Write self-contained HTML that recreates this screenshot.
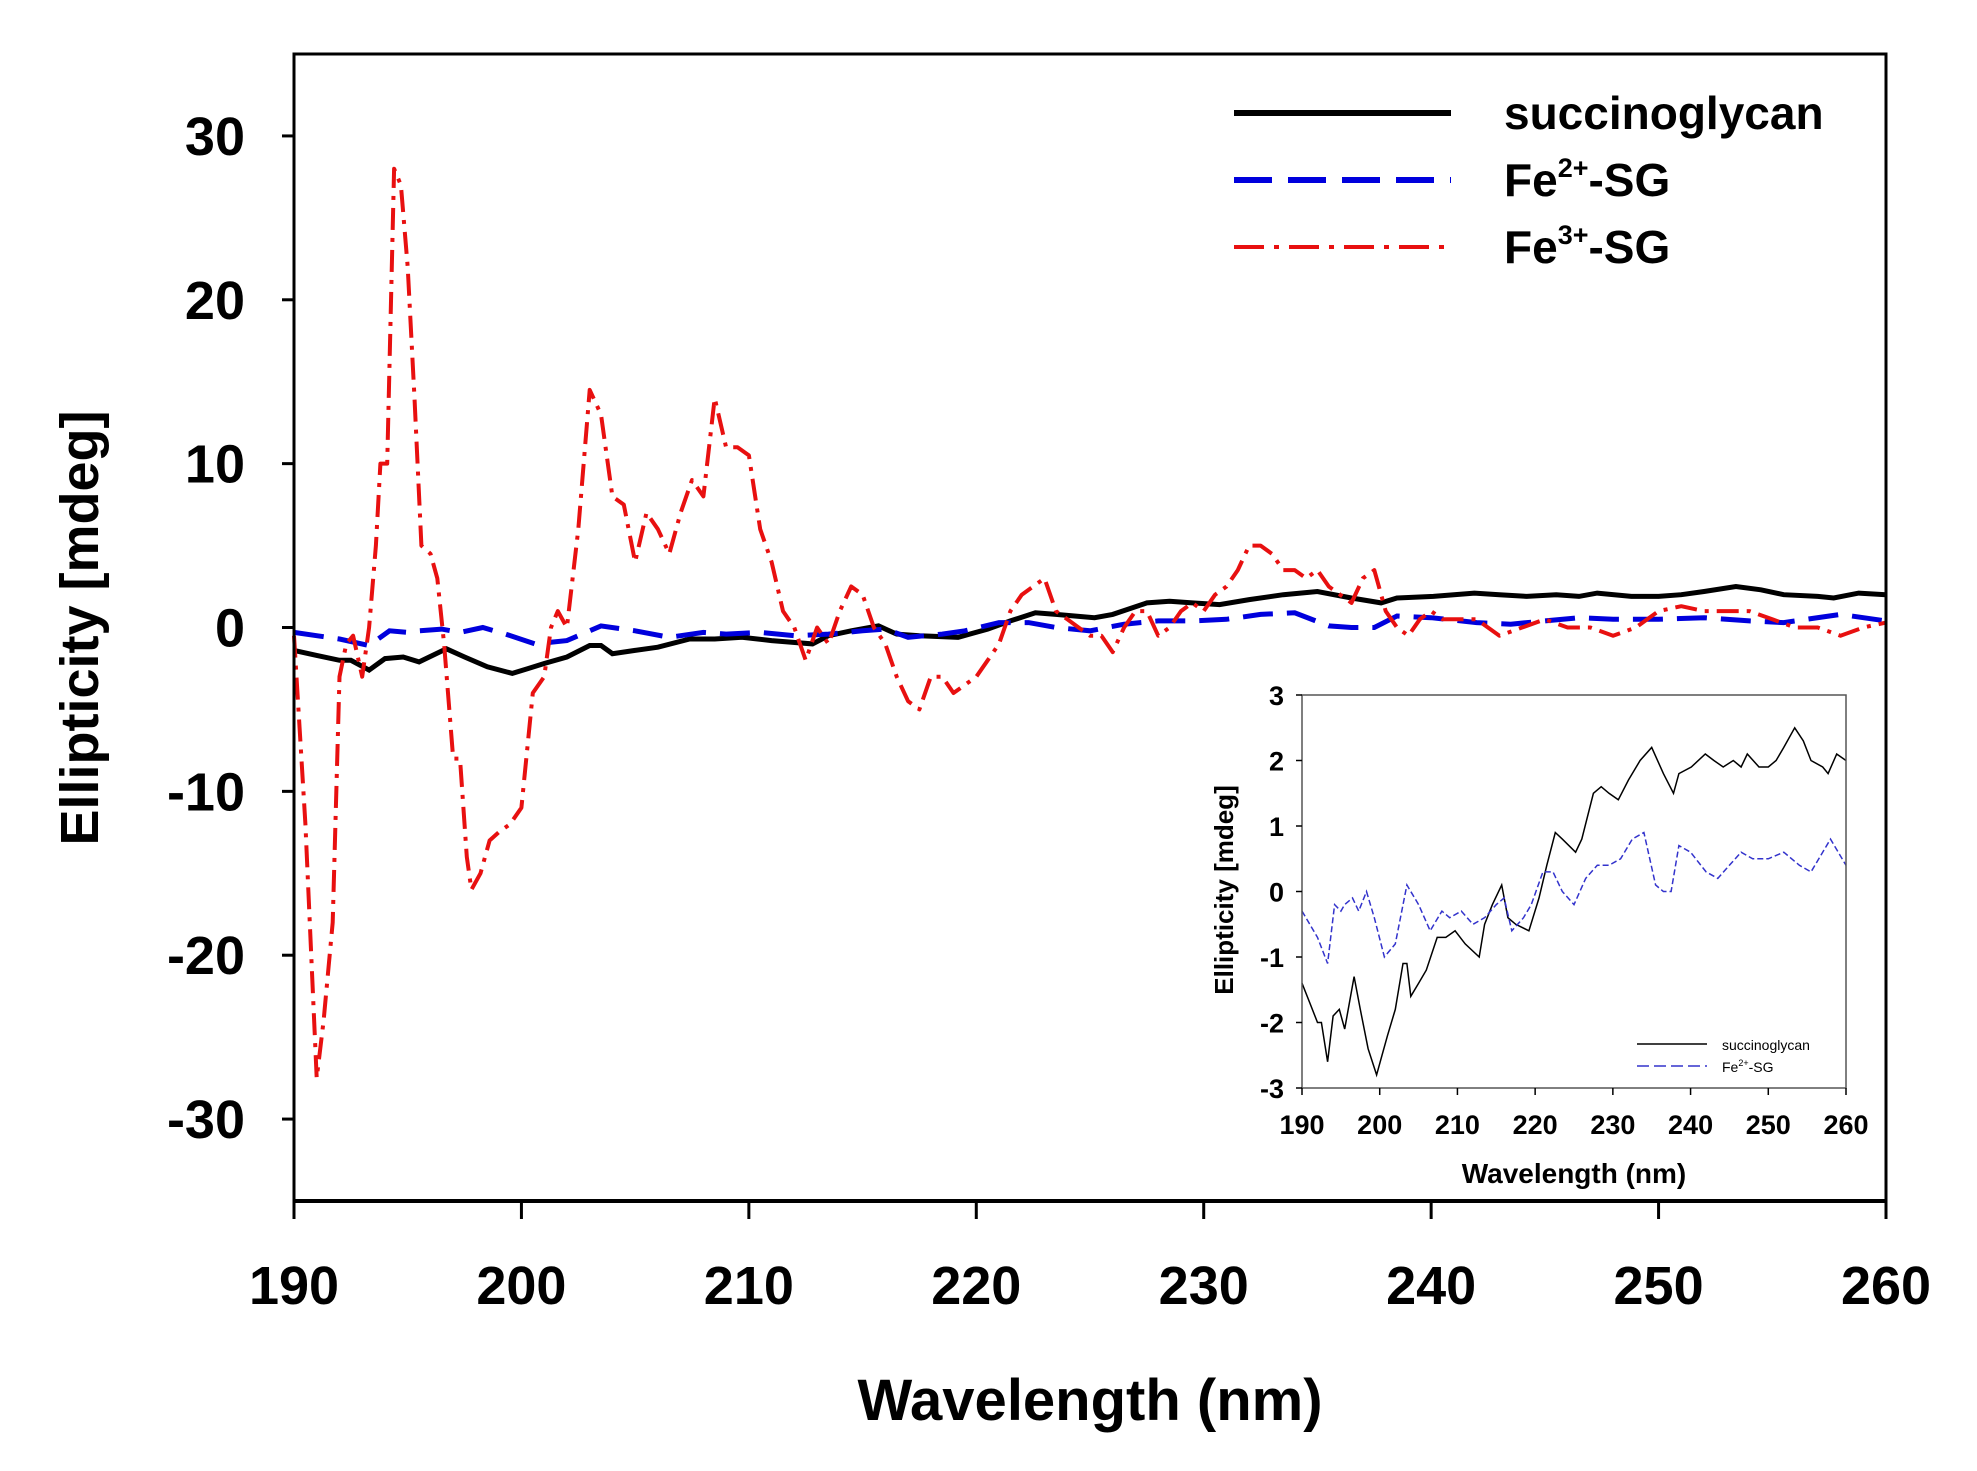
<!DOCTYPE html>
<html><head><meta charset="utf-8"><style>
html,body{margin:0;padding:0;background:#fff;}
svg{display:block;font-family:"Liberation Sans",Arial,sans-serif;font-weight:bold;}
</style></head><body>
<svg id="s" width="1977" height="1471" viewBox="0 0 1977 1471" xmlns="http://www.w3.org/2000/svg">
<rect x="0" y="0" width="1977" height="1471" fill="#fff"/>
<g id="main"></g>
<rect x="294" y="54" width="1592" height="1147" fill="none" stroke="#000" stroke-width="3"/>
<line x1="294" y1="1201" x2="1886" y2="1201" stroke="#000" stroke-width="4"/>
<g id="ticks" stroke="#000" stroke-width="3"></g>
<g id="labels" font-size="54" text-anchor="end"></g>
<text transform="translate(98,628) rotate(-90)" font-size="54" text-anchor="middle">Ellipticity [mdeg]</text>
<text x="1090" y="1420" font-size="58" text-anchor="middle">Wavelength (nm)</text>
<!-- legend -->
<line x1="1234" y1="113" x2="1451" y2="113" stroke="#000" stroke-width="6"/>
<line x1="1234" y1="180" x2="1451" y2="180" stroke="#0000dd" stroke-width="6" stroke-dasharray="38,16"/>
<line x1="1234" y1="247" x2="1451" y2="247" stroke="#e81010" stroke-width="4" stroke-dasharray="30,10,5,10"/>
<text x="1504" y="129" font-size="46">succinoglycan</text>
<text x="1504" y="196" font-size="46">Fe<tspan font-size="27" dy="-19">2+</tspan><tspan dy="19">-SG</tspan></text>
<text x="1504" y="263" font-size="46">Fe<tspan font-size="27" dy="-19">3+</tspan><tspan dy="19">-SG</tspan></text>
<!-- inset -->
<g id="inset"></g>
<rect x="1302" y="695" width="544" height="393" fill="none" stroke="#555" stroke-width="1.5"/>
<g id="iticks" stroke="#000" stroke-width="1.5"></g>
<g id="ilabels" font-size="27"></g>
<text transform="translate(1233,890) rotate(-90)" font-size="26" text-anchor="middle">Ellipticity [mdeg]</text>
<text x="1574" y="1183" font-size="28" text-anchor="middle">Wavelength (nm)</text>
<line x1="1637" y1="1044" x2="1707" y2="1044" stroke="#000" stroke-width="1.5"/>
<line x1="1637" y1="1066" x2="1707" y2="1066" stroke="#3333cc" stroke-width="1.5" stroke-dasharray="12,5"/>
<text x="1722" y="1050" font-size="14" font-weight="normal">succinoglycan</text>
<text x="1722" y="1072" font-size="14" font-weight="normal">Fe<tspan font-size="9" dy="-6">2+</tspan><tspan dy="6">-SG</tspan></text>
</svg>
<script>
var NS="http://www.w3.org/2000/svg";
function el(p,t,a){var e=document.createElementNS(NS,t);for(var k in a)e.setAttribute(k,a[k]);p.appendChild(e);return e;}
var black=[190,-1.4,191,-1.7,192,-2,192.5,-2,193.3,-2.6,194,-1.9,194.8,-1.8,195.5,-2.1,196.7,-1.3,197.5,-1.8,198.5,-2.4,199.6,-2.8,200.3,-2.5,201,-2.2,202,-1.8,203,-1.1,203.5,-1.1,204,-1.6,205,-1.4,206,-1.2,207.4,-0.7,208.5,-0.7,209.7,-0.6,211,-0.8,212.8,-1,213.5,-0.5,214.5,-0.2,215.7,0.1,216.5,-0.4,217.5,-0.5,219.2,-0.6,220.5,-0.1,221.5,0.4,222.6,0.9,223.5,0.8,225.2,0.6,226,0.8,227.5,1.5,228.5,1.6,229.5,1.5,230.7,1.4,232,1.7,233.5,2.0,235,2.2,236.5,1.8,237.8,1.5,238.5,1.8,240.1,1.9,241.9,2.1,243,2.0,244.2,1.9,245.5,2.0,246.5,1.9,247.3,2.1,248.8,1.9,250,1.9,251,2.0,252,2.2,253.4,2.5,254.5,2.3,255.5,2.0,257,1.9,257.7,1.8,258.8,2.1,260,2.0];
var blue=[190,-0.3,191,-0.5,192,-0.7,193.3,-1.1,194.2,-0.2,195,-0.3,195.5,-0.2,196.5,-0.1,197.3,-0.3,198.3,0,199.3,-0.4,200.6,-1,202,-0.8,203.5,0.1,205,-0.2,206.5,-0.6,208,-0.3,209,-0.4,210.5,-0.3,212,-0.5,213.5,-0.4,215,-0.2,216,-0.1,217,-0.6,218.5,-0.4,219.5,-0.2,221,0.3,222.3,0.3,223.5,0,225,-0.2,226.5,0.2,228,0.4,229.5,0.4,231,0.5,232.5,0.8,234,0.9,235.5,0.1,236.5,0,237.5,0,238.5,0.7,240,0.6,242,0.3,243.5,0.2,245,0.4,246.5,0.6,248,0.5,250,0.5,252,0.6,254,0.4,255.5,0.3,258,0.8,260,0.4];
var red=[190,-0.5,190.5,-12,191,-27.5,191.3,-24,191.7,-18,192,-3,192.3,-1,192.6,-0.5,193,-3,193.3,0,193.6,5,193.8,10,194.1,10,194.4,28,194.7,27,195,22,195.3,14,195.6,5,196,4.5,196.3,3,196.6,-1,197,-8,197.3,-8,197.6,-14,197.8,-16,198.2,-15,198.6,-13,199,-12.5,199.5,-12,200,-11,200.5,-4,201,-3,201.3,0,201.6,1,202,0,202.5,6,203,14.5,203.5,13,204,8,204.5,7.5,205,4,205.5,7,206,6,206.5,4.5,207,7,207.5,9,208,8,208.5,14,209,11,209.5,11,210,10.5,210.5,6,211,4,211.5,1,212,0,212.5,-2,213,0,213.5,-1,214,1,214.5,2.5,215,2,215.5,0,216,-1,216.5,-3,217,-4.5,217.5,-5,218,-3,218.5,-3,219,-4,219.5,-3.5,220,-3,220.5,-2,221,-1,221.5,1,222,2,222.5,2.5,223,3,223.5,1,224,0.5,224.5,0,225,-0.5,225.5,-0.5,226,-1.5,226.5,0,227,1,227.5,1,228,-0.5,228.5,0,229,1,229.5,1.5,230,1,230.5,2,231,2.5,231.5,3.5,232,5,232.5,5,233,4.5,233.5,3.5,234,3.5,234.5,3,235,3.5,235.5,2.5,236,2,236.5,1.5,237,3,237.5,3.5,238,1,238.5,0,239,-0.5,239.5,0.5,240,1,240.5,0.5,242,0.5,243,-0.5,244,0,245,0.5,246,0,247,0,248,-0.5,249,0,250,1,251,1.3,252,1,253,1,254,1,255,0.5,256,0,257,0,258,-0.5,259,0,260,0.3];
function path(d,fx,fy){var s="";for(var i=0;i<d.length;i+=2)s+=(i?"L":"M")+fx(d[i]).toFixed(1)+","+fy(d[i+1]).toFixed(1);return s;}
var L=294,R=1886,T=54,B=1201;
var mx=function(x){return L+(x-190)*(R-L)/70;}, my=function(y){return (T+B)/2-y*(B-T)/70;};
var g=document.getElementById("main");
el(g,"path",{d:path(black,mx,my),fill:"none",stroke:"#000","stroke-width":5});
el(g,"path",{d:path(blue,mx,my),fill:"none",stroke:"#0000dd","stroke-width":5,"stroke-dasharray":"30,14"});
el(g,"path",{d:path(red,mx,my),fill:"none",stroke:"#e81010","stroke-width":4,"stroke-dasharray":"22,8,4,8","stroke-linejoin":"round"});
var tk=document.getElementById("ticks"),lb=document.getElementById("labels");
for(var v=190;v<=260;v+=10){var x=mx(v);el(tk,"line",{x1:x,y1:B,x2:x,y2:B+18});var t=el(lb,"text",{x:x,y:1304,"text-anchor":"middle"});t.textContent=v;}
for(var v=-30;v<=30;v+=10){var y=my(v);el(tk,"line",{x1:L-12,y1:y,x2:L,y2:y});var t=el(lb,"text",{x:245,y:y+19});t.textContent=v;}
var IL=1302,IR=1846,IT=695,IB=1088;
var ix=function(x){return IL+(x-190)*(IR-IL)/70;}, iy=function(y){return (IT+IB)/2-y*(IB-IT)/6;};
var gi=document.getElementById("inset");
el(gi,"path",{d:path(black,ix,iy),fill:"none",stroke:"#000","stroke-width":1.5});
el(gi,"path",{d:path(blue,ix,iy),fill:"none",stroke:"#3333cc","stroke-width":1.5,"stroke-dasharray":"6,3"});
var it=document.getElementById("iticks"),il=document.getElementById("ilabels");
for(var v=190;v<=260;v+=10){var x=ix(v);el(it,"line",{x1:x,y1:IB,x2:x,y2:IB+7});var t=el(il,"text",{x:x,y:1134,"text-anchor":"middle"});t.textContent=v;}
for(var v=-3;v<=3;v+=1){var y=iy(v);el(it,"line",{x1:IL-6,y1:y,x2:IL,y2:y});var t=el(il,"text",{x:1284,y:y+10,"text-anchor":"end"});t.textContent=v;}
</script>
</body></html>
